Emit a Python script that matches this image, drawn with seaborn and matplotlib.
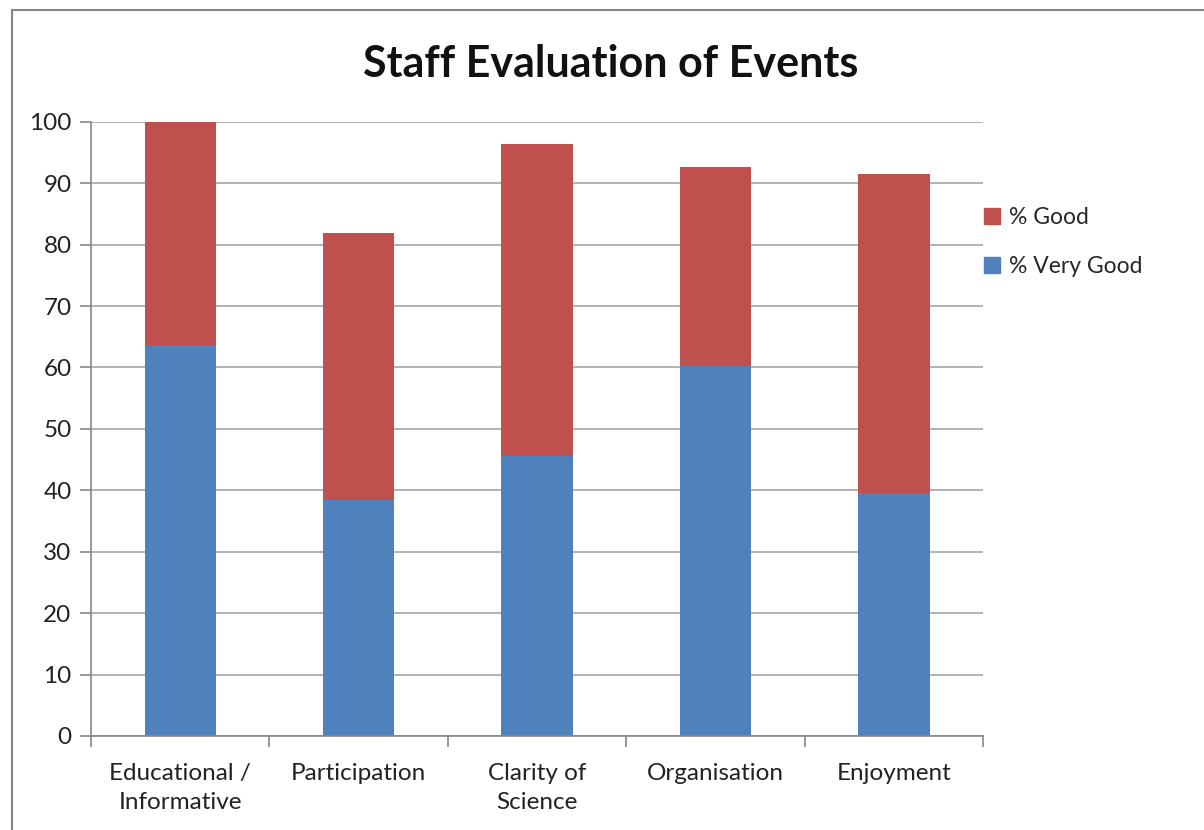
import matplotlib
matplotlib.use("Agg")
import matplotlib.pyplot as plt
import matplotlib.patches as mpatches
import seaborn as sns
import pandas as pd

# Data
categories = ["Educational /\nInformative", "Participation", "Clarity of\nScience", "Organisation", "Enjoyment"]
very_good = [63.6, 38.4, 45.6, 60.2, 39.5]
good = [36.4, 43.5, 50.7, 32.5, 52.0]
totals = [v + g for v, g in zip(very_good, good)]

df = pd.DataFrame({"category": categories, "very_good": very_good, "total": totals})

sns.set_style("white")
plt.rcParams['font.family'] = ['Lato', 'DejaVu Sans']

red = "#C0504D"
blue = "#4F81BD"

fig = plt.figure(figsize=(12.04, 8.30), dpi=100)
ax = fig.add_axes([0.0756, 0.1133, 0.741, 0.74])

# stacked bars: draw total in red, then very good in blue on top
sns.barplot(data=df, x="category", y="total", color=red, width=0.4, saturation=1, linewidth=0, ax=ax)
sns.barplot(data=df, x="category", y="very_good", color=blue, width=0.4, saturation=1, linewidth=0, ax=ax)

ax.set_ylim(0, 100)
ax.set_xlim(-0.5, len(categories) - 0.5)
ax.set_yticks(range(0, 101, 10))
ax.yaxis.grid(True, color="#A6A6A6", linewidth=1.2)
ax.set_axisbelow(True)
ax.set_xlabel("")
ax.set_ylabel("")

for s in ["top", "right"]:
    ax.spines[s].set_visible(False)
for s in ["left", "bottom"]:
    ax.spines[s].set_color("#868686")
    ax.spines[s].set_linewidth(1.2)

# y tick marks outward on the left
ax.tick_params(axis="y", which="both", left=True, length=8, width=1.2, color="#868686",
               labelsize=17.5, labelcolor="#222222", pad=6, direction="out")
# x tick marks at category boundaries
ax.set_xticks(range(len(categories)))
ax.set_xticklabels(categories, linespacing=1.45)
ax.tick_params(axis="x", which="major", bottom=False, labelsize=17.5, labelcolor="#222222", pad=16)
ax.set_xticks([i - 0.5 for i in range(len(categories) + 1)], minor=True)
ax.tick_params(axis="x", which="minor", bottom=True, length=8, width=1.2, color="#868686", direction="out")

fig.suptitle("Staff Evaluation of Events", x=0.507, y=0.947, fontsize=31, fontweight="bold", color="#111111")

handles = [mpatches.Patch(color=red, label="% Good"), mpatches.Patch(color=blue, label="% Very Good")]
fig.legend(handles=handles, loc="upper left", bbox_to_anchor=(0.8, 0.775), frameon=False,
           fontsize=16.5, handlelength=0.7, handleheight=0.7, handletextpad=0.4, labelspacing=1.2)

# outer chart border
fig.patches.append(mpatches.Rectangle((0.01, -0.01), 1.2, 0.998, transform=fig.transFigure,
                                      fill=False, edgecolor="#868686", linewidth=1.5))

fig.savefig("out.png", dpi=100)
